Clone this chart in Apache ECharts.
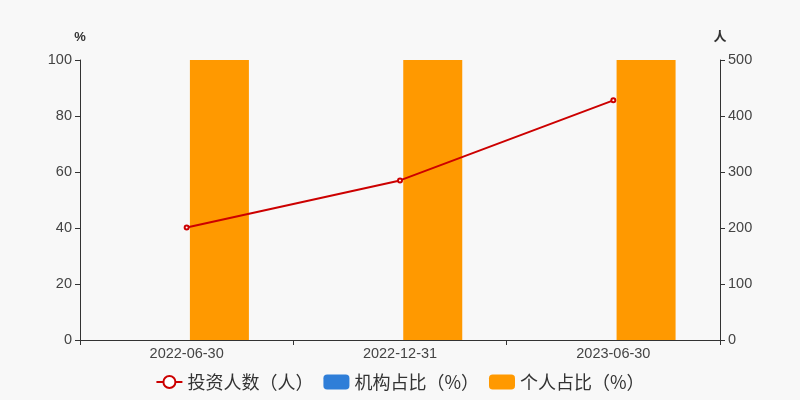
<!DOCTYPE html>
<html><head><meta charset="utf-8">
<script src="https://cdn.jsdelivr.net/npm/echarts@6/dist/echarts.min.js"></script>
<style>html,body{margin:0;padding:0;background:#f8f8f8}#c{width:800px;height:400px}</style>
</head><body><div id="c"></div>
<script>
var categories = ['2022-06-30', '2022-12-31', '2023-06-30'];
var investors = [201, 285, 428];
var institutionPct = [0, 0, 0];
var individualPct = [100, 100, 100];
var leftTicks = [0, 100];
var rightTicks = [0, 500];

var chart = echarts.init(document.getElementById('c'));
chart.setOption({
  backgroundColor: '#f8f8f8',
  textStyle: {fontFamily: '"Liberation Sans", Arial, "Noto Sans CJK SC", sans-serif'},
  grid: {left: 80, right: 80, top: 60, bottom: 60},
  legend: {
    bottom: 4, itemGap: 10, itemWidth: 26, itemHeight: 15,
    textStyle: {fontSize: 18, color: '#333', fontFamily: '"Noto Sans CJK SC", sans-serif'},
    data: [
      {name: '投资人数（人）'},
      {name: '机构占比（%）', icon: 'roundRect'},
      {name: '个人占比（%）', icon: 'roundRect'}
    ]
  },
  xAxis: {
    type: 'category', data: categories, boundaryGap: true,
    axisLine: {lineStyle: {color: '#333'}},
    axisTick: {show: true, lineStyle: {color: '#333'}},
    axisLabel: {color: '#444', fontSize: 14.5, margin: 7}
  },
  yAxis: [
    {type: 'value', name: '%', min: leftTicks[0], max: leftTicks[1], interval: 20,
     nameTextStyle: {color: '#333', fontSize: 13, fontWeight: 'bold'},
     nameGap: 16,
     axisLine: {show: true, lineStyle: {color: '#333'}},
     axisTick: {show: true, lineStyle: {color: '#333'}},
     axisLabel: {color: '#444', fontSize: 14.5},
     splitLine: {show: false}},
    {type: 'value', name: '人', min: rightTicks[0], max: rightTicks[1], interval: 100,
     nameTextStyle: {color: '#333', fontSize: 13, fontWeight: 'bold'},
     nameGap: 16,
     axisLine: {show: true, lineStyle: {color: '#333'}},
     axisTick: {show: true, lineStyle: {color: '#333'}},
     axisLabel: {color: '#444', fontSize: 14.5},
     splitLine: {show: false}}
  ],
  series: [
    {name: '投资人数（人）', type: 'line', yAxisIndex: 1, data: investors,
     symbol: 'emptyCircle', symbolSize: 4, z: 5,
     itemStyle: {color: '#cc0000', borderWidth: 1}, lineStyle: {color: '#cc0000', width: 2}},
    {name: '机构占比（%）', type: 'bar', yAxisIndex: 0, data: institutionPct,
     barWidth: 59, barGap: '11%', itemStyle: {color: '#2f7ed8'}},
    {name: '个人占比（%）', type: 'bar', yAxisIndex: 0, data: individualPct,
     barWidth: 59, barGap: '11%', itemStyle: {color: '#ff9900'}}
  ]
});
</script></body></html>
